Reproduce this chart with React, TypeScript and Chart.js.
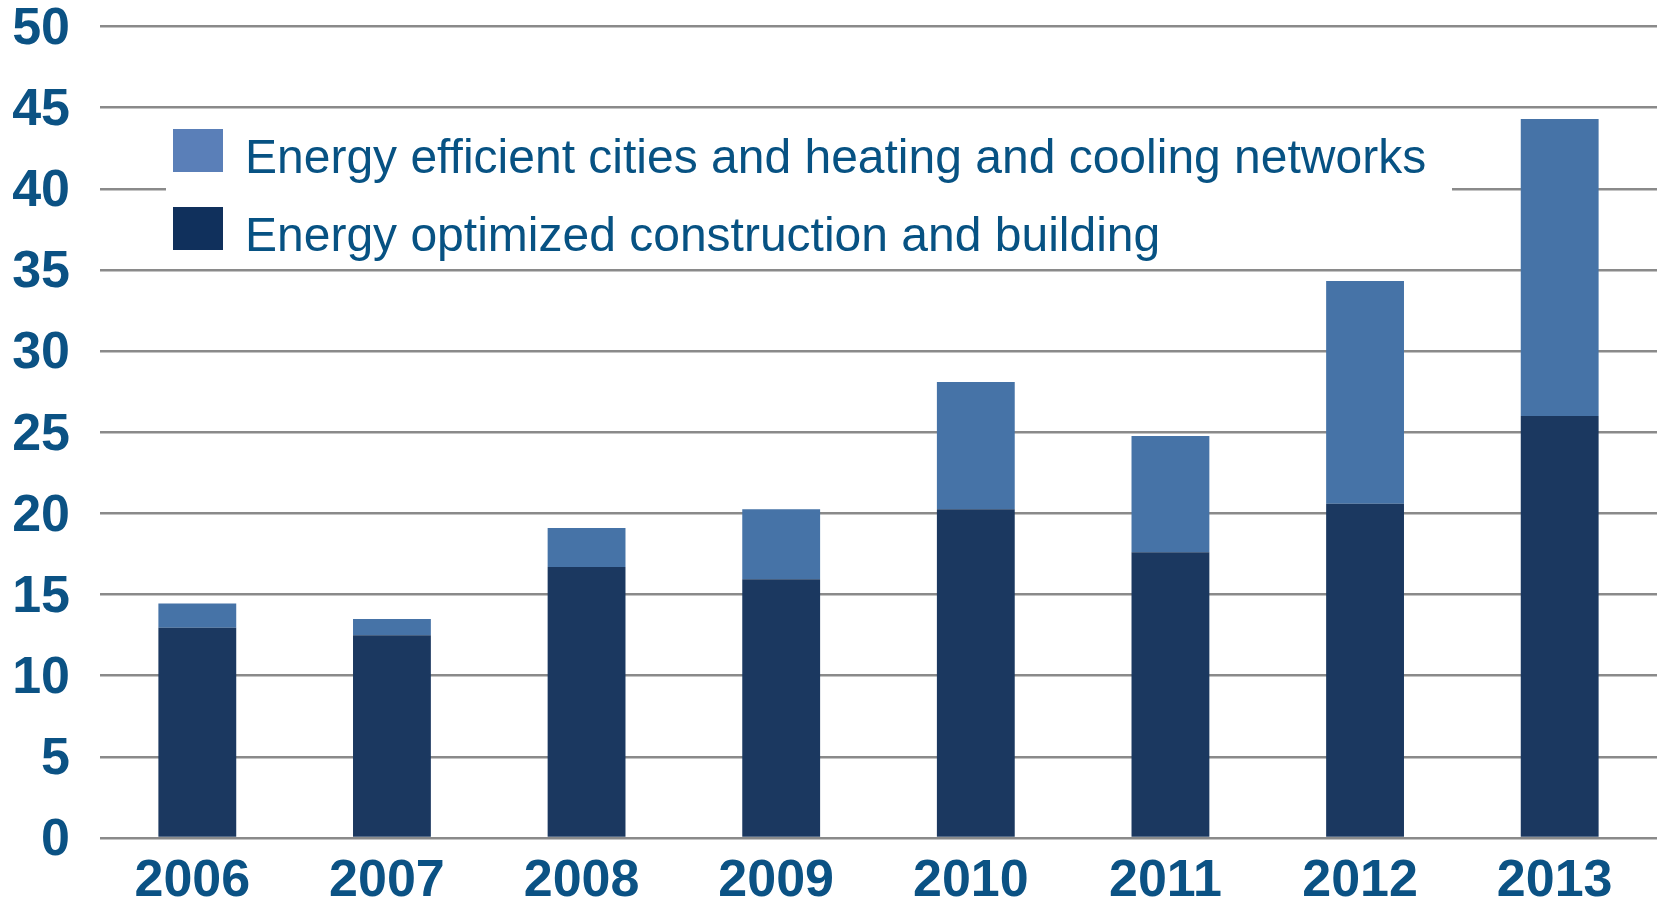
import React, { useEffect, useRef } from "react";
import { Chart, registerables } from "chart.js";

Chart.register(...registerables);

const years = ["2006", "2007", "2008", "2009", "2010", "2011", "2012", "2013"];
const buildingValues = [12.95, 12.5, 16.7, 15.95, 20.25, 17.6, 20.6, 26.0];
const citiesValues = [1.5, 1.0, 2.4, 4.3, 7.85, 7.17, 13.72, 18.3];
const seriesLabels = [
  "Energy optimized construction and building",
  "Energy efficient cities and heating and cooling networks",
];
const yTicks = [0, 5, 10, 15, 20, 25, 30, 35, 40, 45, 50];

const FONT = "'Liberation Sans', Arial, sans-serif";
const TEXT_COLOR = "#0b5284";

const legendPlugin = {
  id: "insideLegend",
  afterDatasetsDraw(chart: any) {
    const ctx = chart.ctx;
    ctx.save();
    ctx.fillStyle = "#ffffff";
    ctx.fillRect(166, 118, 1452 - 166, 144);
    const items = [
      { label: chart.data.datasets[1].label, swatch: "#5a7fb8", y: 129 },
      { label: chart.data.datasets[0].label, swatch: "#10305c", y: 207 },
    ];
    ctx.font = `48px ${FONT}`;
    ctx.textBaseline = "alphabetic";
    ctx.textAlign = "left";
    for (const it of items) {
      ctx.fillStyle = it.swatch;
      ctx.fillRect(173, it.y, 50, 43);
      ctx.fillStyle = "#075283";
      ctx.fillText(it.label, 245, it.y + 43.5);
    }
    ctx.restore();
  },
};

export default function App() {
  const ref = useRef<HTMLCanvasElement | null>(null);
  useEffect(() => {
    if (!ref.current) return;
    const chart = new Chart(ref.current, {
      type: "bar",
      data: {
        labels: years,
        datasets: [
          {
            label: seriesLabels[0],
            data: buildingValues,
            backgroundColor: "#1b3860",
            borderWidth: 0,
            categoryPercentage: 1,
            barPercentage: 0.4,
          },
          {
            label: seriesLabels[1],
            data: citiesValues,
            backgroundColor: "#4673a7",
            borderWidth: 0,
            categoryPercentage: 1,
            barPercentage: 0.4,
          },
        ],
      },
      options: {
        animation: false,
        responsive: false,
        devicePixelRatio: 1,
        layout: { padding: 0 },
        plugins: { legend: { display: false }, tooltip: { enabled: false } },
        scales: {
          x: {
            stacked: true,
            grid: { display: false, drawTicks: false },
            border: { display: false },
            ticks: {
              color: TEXT_COLOR,
              font: { family: FONT, size: 52, weight: "bold" },
              padding: 12,
              labelOffset: -5,
              maxRotation: 0,
            },
            afterFit: (s: any) => {
              s.height = 67;
              s.paddingLeft = 0;
              s.paddingRight = 0;
            },
          },
          y: {
            stacked: true,
            min: 0,
            max: 50,
            afterBuildTicks: (s: any) => {
              s.ticks = yTicks.map((v) => ({ value: v }));
            },
            grid: { color: "#8a8a8a", lineWidth: 2.5, drawTicks: false },
            border: { display: false },
            ticks: {
              color: TEXT_COLOR,
              font: { family: FONT, size: 52, weight: "bold", lineHeight: 1 },
              padding: 30,
              labelOffset: 3,
            },
            afterFit: (s: any) => {
              s.width = 100;
              s.paddingTop = 26.5;
              s.paddingBottom = 0;
            },
          },
        },
      },
      plugins: [legendPlugin],
    });
    return () => chart.destroy();
  }, []);
  return (
    <div style={{ position: "fixed", left: 0, top: 0, width: 1657, height: 905, background: "#fff" }}>
      <canvas ref={ref} width={1657} height={905} />
    </div>
  );
}
